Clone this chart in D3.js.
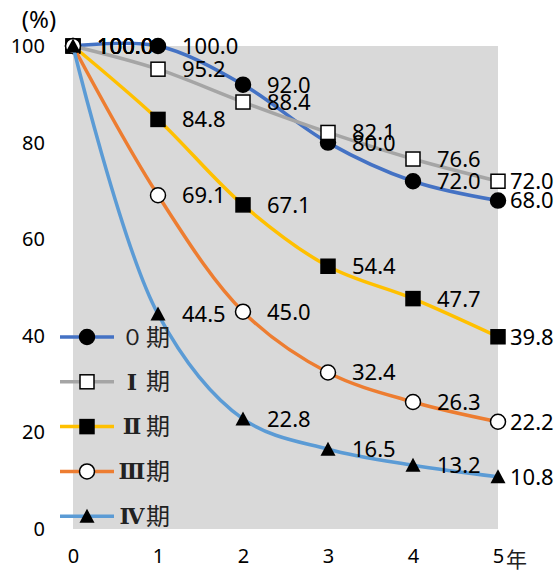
<!DOCTYPE html>
<html>
<head>
<meta charset="utf-8">
<script src="https://cdn.jsdelivr.net/npm/d3@7"></script>
<style>
  html, body { margin: 0; padding: 0; background: #fff; }
  svg { display: block; }
</style>
</head>
<body>
<svg id="chart" width="560" height="576"></svg>
<script>
// Survival rate (%) by stage, years 0–5
const years = [0, 1, 2, 3, 4, 5];
const yearLabels = ["0", "1", "2", "3", "4", "5"];
const stageNumerals = ["０", "Ⅰ", "Ⅱ", "Ⅲ", "Ⅳ"];
const stage0 = [100, 100, 92.0, 80.0, 72.0, 68.0];
const stage1 = [100, 95.2, 88.4, 82.1, 76.6, 72.0];
const stage2 = [100, 84.8, 67.1, 54.4, 47.7, 39.8];
const stage3 = [100, 69.1, 45.0, 32.4, 26.3, 22.2];
const stage4 = [100, 44.5, 22.8, 16.5, 13.2, 10.8];
const yTicks = [0, 20, 40, 60, 80, 100];

const colors = ["#4472C4", "#A5A5A5", "#FFC000", "#ED7D31", "#5B9BD5"];
const markerKinds = ["circleBlack", "squareWhite", "squareBlack", "circleWhite", "triangleBlack"];

const series = [stage0, stage1, stage2, stage3, stage4].map((vals, i) => ({
  numeral: stageNumerals[i],
  values: vals,
  color: colors[i],
  marker: markerKinds[i]
}));

const svg = d3.select("#chart");
const plotLeft = 73, plotRight = 498, plotTop = 46, plotBottom = 529;

const x = d3.scaleLinear().domain([0, 5]).range([plotLeft, plotRight]);
const y = d3.scaleLinear().domain([0, 100]).range([plotBottom, plotTop]);

// plot area background
svg.append("rect")
  .attr("x", plotLeft).attr("y", plotTop)
  .attr("width", plotRight - plotLeft).attr("height", plotBottom - plotTop)
  .attr("fill", "#D9D9D9");

const font = "'Noto Sans', 'DejaVu Sans', sans-serif";

// y axis
const yAxis = svg.append("g")
  .attr("transform", `translate(${plotLeft - 28},0)`)
  .call(d3.axisLeft(y).tickValues(yTicks).tickSize(0).tickPadding(0));
yAxis.select(".domain").remove();
yAxis.selectAll("text")
  .attr("font-family", font).attr("font-size", 20).attr("fill", "#000");

svg.append("text")
  .attr("x", 39).attr("y", 20).attr("dy", "0.35em")
  .attr("text-anchor", "middle")
  .attr("font-family", font).attr("font-size", 24)
  .text("(%)");

// x axis
const xAxis = svg.append("g")
  .attr("transform", `translate(0,${plotBottom + 20})`)
  .call(d3.axisBottom(x).tickValues(years).tickFormat((d, i) => yearLabels[i]).tickSize(0).tickPadding(0));
xAxis.select(".domain").remove();
xAxis.selectAll("text")
  .attr("font-family", font).attr("font-size", 20).attr("fill", "#000");

svg.append("text")
  .attr("x", x(5) + 8).attr("y", plotBottom + 31).attr("dy", "0.35em")
  .attr("font-family", "'Noto Sans CJK JP', sans-serif").attr("font-size", 21)
  .attr("fill", "#222")
  .text("年");

function drawMarker(g, kind, cx, cy) {
  const fill = kind.endsWith("White") ? "#fff" : "#000";
  if (kind.startsWith("circle")) {
    g.append("circle").attr("cx", cx).attr("cy", cy).attr("r", 7.5)
      .attr("fill", fill).attr("stroke", "#000").attr("stroke-width", 1.5);
  } else if (kind.startsWith("square")) {
    g.append("rect").attr("x", cx - 7).attr("y", cy - 7)
      .attr("width", 14).attr("height", 14)
      .attr("fill", fill).attr("stroke", "#000").attr("stroke-width", 1.5);
  } else {
    const s = 15, h = 13;
    g.append("path")
      .attr("d", `M${cx},${cy - h / 2 - 1}L${cx + s / 2},${cy + h / 2}L${cx - s / 2},${cy + h / 2}Z`)
      .attr("fill", fill);
  }
}

const line = d3.line()
  .x((d, i) => x(years[i]))
  .y(d => y(d))
  .curve(d3.curveCatmullRom.alpha(0.5));

// series lines with markers
series.forEach(s => {
  const g = svg.append("g");
  g.append("path")
    .datum(s.values)
    .attr("d", line)
    .attr("fill", "none")
    .attr("stroke", s.color)
    .attr("stroke-width", 3.5)
    .attr("stroke-linejoin", "round");
  s.values.forEach((v, i) => drawMarker(g, s.marker, x(years[i]), y(v)));
});

// value labels
series.forEach(s => {
  svg.append("g").selectAll("text")
    .data(s.values)
    .join("text")
    .attr("x", (d, i) => x(years[i]) + (i === 5 ? 12 : 24))
    .attr("y", d => y(d))
    .attr("dy", "0.36em")
    .attr("font-family", font).attr("font-size", 22)
    .attr("fill", "#000")
    .text(d => d.toFixed(1));
});

// legend
const legend = svg.append("g");
series.forEach((s, i) => {
  const ly = 337 + i * 44.8;
  legend.append("line")
    .attr("x1", 60).attr("x2", 114).attr("y1", ly).attr("y2", ly)
    .attr("stroke", s.color).attr("stroke-width", 3.5);
  drawMarker(legend, s.marker, 87, ly);
  legend.append("text")
    .attr("x", 132).attr("y", ly).attr("dy", "0.35em")
    .attr("text-anchor", "middle")
    .attr("font-family", i === 0 ? font : "'DejaVu Serif', 'Liberation Serif', serif")
    .attr("font-weight", i === 0 ? "normal" : "bold")
    .attr("font-size", i === 0 ? 23 : 22)
    .attr("fill", "#222")
    .text(s.numeral);
  legend.append("text")
    .attr("x", 146).attr("y", ly).attr("dy", "0.36em")
    .attr("font-family", "'Noto Sans CJK JP', sans-serif").attr("font-size", 24)
    .attr("fill", "#222")
    .text("期");
});
</script>
</body>
</html>
